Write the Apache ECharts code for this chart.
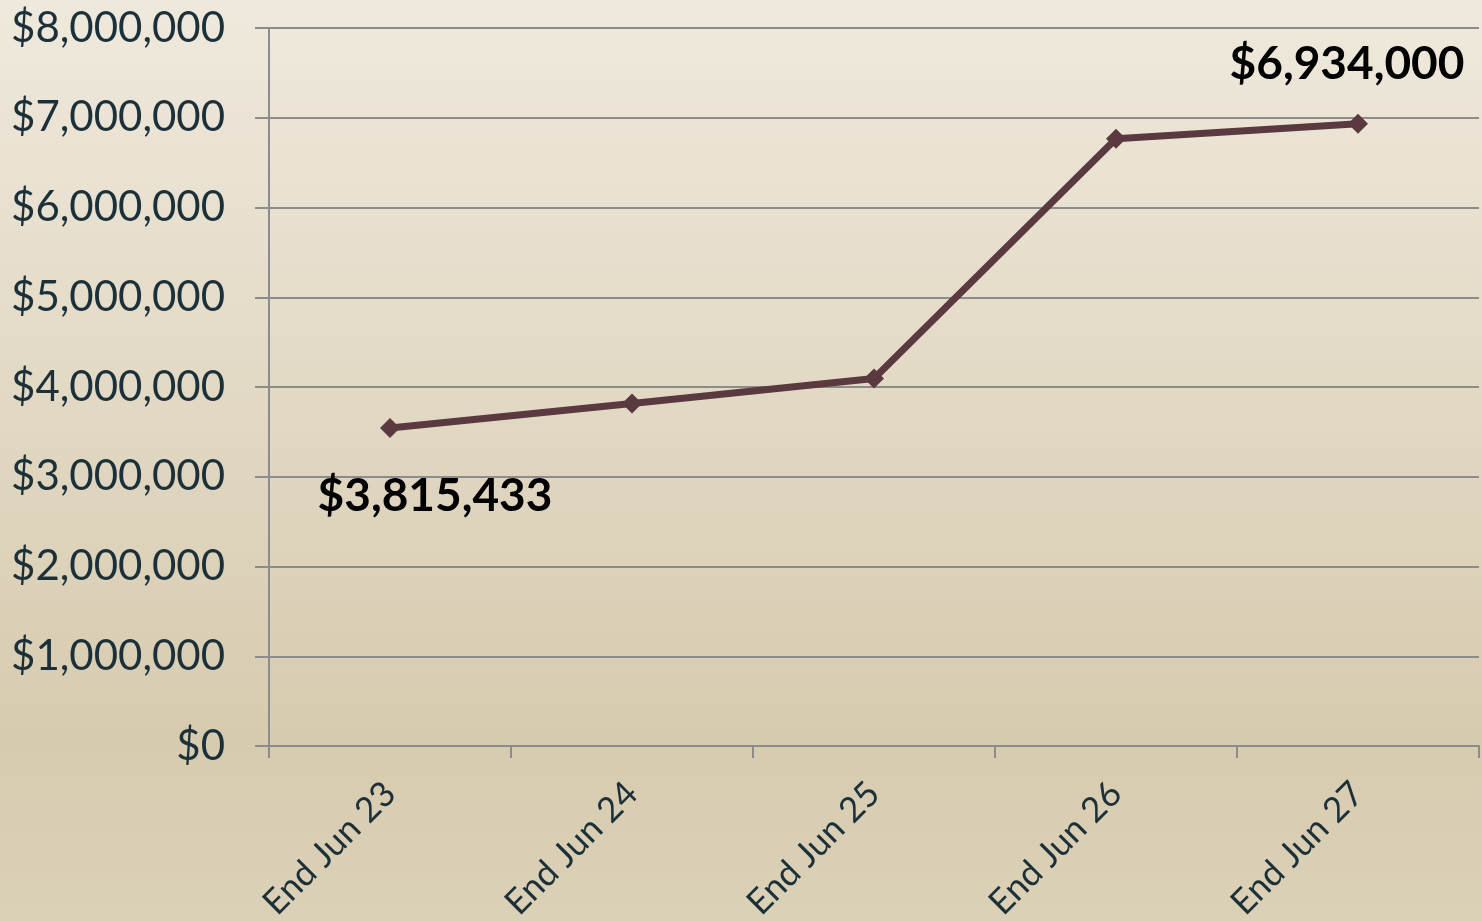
<!DOCTYPE html>
<html>
<head>
<meta charset="utf-8">
<script src="https://cdn.jsdelivr.net/npm/echarts@6/dist/echarts.min.js"></script>
<style>
html,body{margin:0;padding:0;width:1482px;height:921px;overflow:hidden;}
#c{width:1482px;height:921px;}
</style>
</head>
<body>
<div id="c"></div>
<script>
const categories = ['End Jun 23', 'End Jun 24', 'End Jun 25', 'End Jun 26', 'End Jun 27'];
const values = [3543000, 3815433, 4094000, 6767000, 6934000];
const yTicks = {min: 0, max: 8000000, interval: 1000000};

const fmtMoney = v => '$' + Math.round(v).toString().replace(/\B(?=(\d{3})+(?!\d))/g, ',');

const chart = echarts.init(document.getElementById('c'));
const labelStyle = {fontFamily: 'Lato', fontWeight: 'bold', fontSize: 46, color: '#000'};
const seriesData = values.map((v, i) => {
  const d = {value: v};
  if (i === 1) d.label = Object.assign({show: true, position: 'inside', offset: [-197, 93], formatter: p => fmtMoney(p.value)}, labelStyle);
  if (i === 4) d.label = Object.assign({show: true, position: 'inside', offset: [-11, -60], formatter: p => fmtMoney(p.value)}, labelStyle);
  return d;
});

chart.setOption({
  backgroundColor: new echarts.graphic.LinearGradient(0, 0, 0, 1, [
    {offset: 0, color: '#efe9dd'},
    {offset: 0.8, color: '#d7cbaf'},
    {offset: 1, color: '#dbd1b7'}
  ]),
  animation: false,
  grid: {left: 269, right: 3, top: 28, bottom: 175, containLabel: false, outerBoundsMode: 'none'},
  xAxis: {
    type: 'category',
    data: categories,
    boundaryGap: true,
    axisLine: {lineStyle: {color: '#8c8c8c', width: 2}},
    axisTick: {show: true, length: 12, lineStyle: {color: '#8c8c8c', width: 2}},
    axisLabel: {rotate: 45, fontFamily: 'Lato', fontSize: 35, color: '#1b3038', margin: 42, interval: 0}
  },
  yAxis: {
    type: 'value',
    min: yTicks.min, max: yTicks.max, interval: yTicks.interval,
    axisLine: {show: true, lineStyle: {color: '#8c8c8c', width: 2}},
    axisTick: {show: true, length: 14, lineStyle: {color: '#8c8c8c', width: 2}},
    splitLine: {lineStyle: {color: '#8c8c8c', width: 2}},
    axisLabel: {fontFamily: 'Lato', fontSize: 42, color: '#1b3038', margin: 44, formatter: v => fmtMoney(v)}
  },
  series: [{
    type: 'line',
    data: seriesData,
    symbol: 'diamond',
    symbolSize: 20,
    lineStyle: {color: '#5a3a40', width: 7},
    itemStyle: {color: '#5a3a40'}
  }]
});
</script>
</body>
</html>
